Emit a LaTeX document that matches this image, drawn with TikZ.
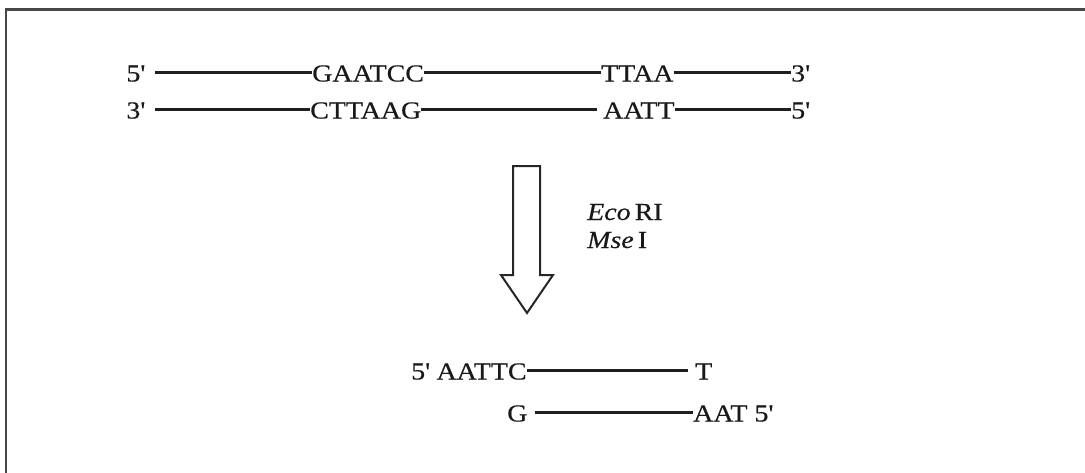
\documentclass[tikz,border=0pt]{standalone}
\usepackage{fontspec}
\setmainfont{Liberation Serif}[FakeStretch=1.14, FakeBold=0.4]
\newcommand\prm{\textquotesingle}
\begin{document}
\begin{tikzpicture}[x=1pt,y=-1pt,
  seq/.style={inner sep=0pt, text height=19pt, text depth=0pt,
              font=\fontsize{24.5}{28}\selectfont, text=black!90},
  lab/.style={inner sep=0pt, font=\fontsize{24.5}{28}\selectfont, text=black!90},
  strand/.style={line width=3pt, draw=black!88},
  outline/.style={line width=2pt, draw=black!85, line join=miter},
  frame/.style={line width=2.6pt, draw=black!72}]
\useasboundingbox (0,0) rectangle (1085,472);
\clip (0,0) rectangle (1085,472);

% surrounding frame (continues past the right and bottom edges)
\draw[frame] (6,9.5) rectangle (1100,490);

% double-stranded DNA, top strand
\node[seq,anchor=east] (t5) at (145,72) {5\prm};
\node[seq,anchor=west] (ecoT) at (312,72) {GAATCC};
\node[seq,anchor=west] (mseT) at (601,72) {TTAA};
\node[seq,anchor=west] (t3) at (791,72) {3\prm};
\draw[strand] ([xshift=10pt]t5.east) -- (ecoT.west);
\draw[strand] (ecoT.east) -- (mseT.west);
\draw[strand] (mseT.east) -- (t3.west);

% bottom strand
\node[seq,anchor=east] (b3) at (145,109) {3\prm};
\node[seq,anchor=west] (ecoB) at (310,109) {CTTAAG};
\node[seq,anchor=west] (mseB) at (603,109) {AATT};
\node[seq,anchor=west] (b5) at (791,109) {5\prm};
\draw[strand] ([xshift=10pt]b3.east) -- (ecoB.west);
\draw[strand, shorten >=6pt] (ecoB.east) -- (mseB.west);
\draw[strand] (mseB.east) -- (b5.west);

% digestion arrow
\draw[outline] (513,166) -- (540,166) -- (540,275) -- (553,275)
  -- (527,313) -- (501,275) -- (513,275) -- cycle;
\node[lab,anchor=base west] (enz1) at (587,220) {\textit{Eco}\,RI};
\node[lab,anchor=base west] (enz2) at (587,248) {\textit{Mse}\,I};

% EcoRI--MseI fragment
\node[seq,anchor=west] (fT) at (411,370) {5\prm{} AATTC};
\node[seq,anchor=west] (tT) at (695,370) {T};
\draw[strand, shorten >=7pt] (fT.east) -- (tT.west);
\node[seq,anchor=west] (gB) at (507,412) {G};
\node[seq,anchor=west] (fB) at (693,412) {AAT 5\prm};
\draw[strand] ([xshift=7pt]gB.east) -- (fB.west);
\end{tikzpicture}
\end{document}
